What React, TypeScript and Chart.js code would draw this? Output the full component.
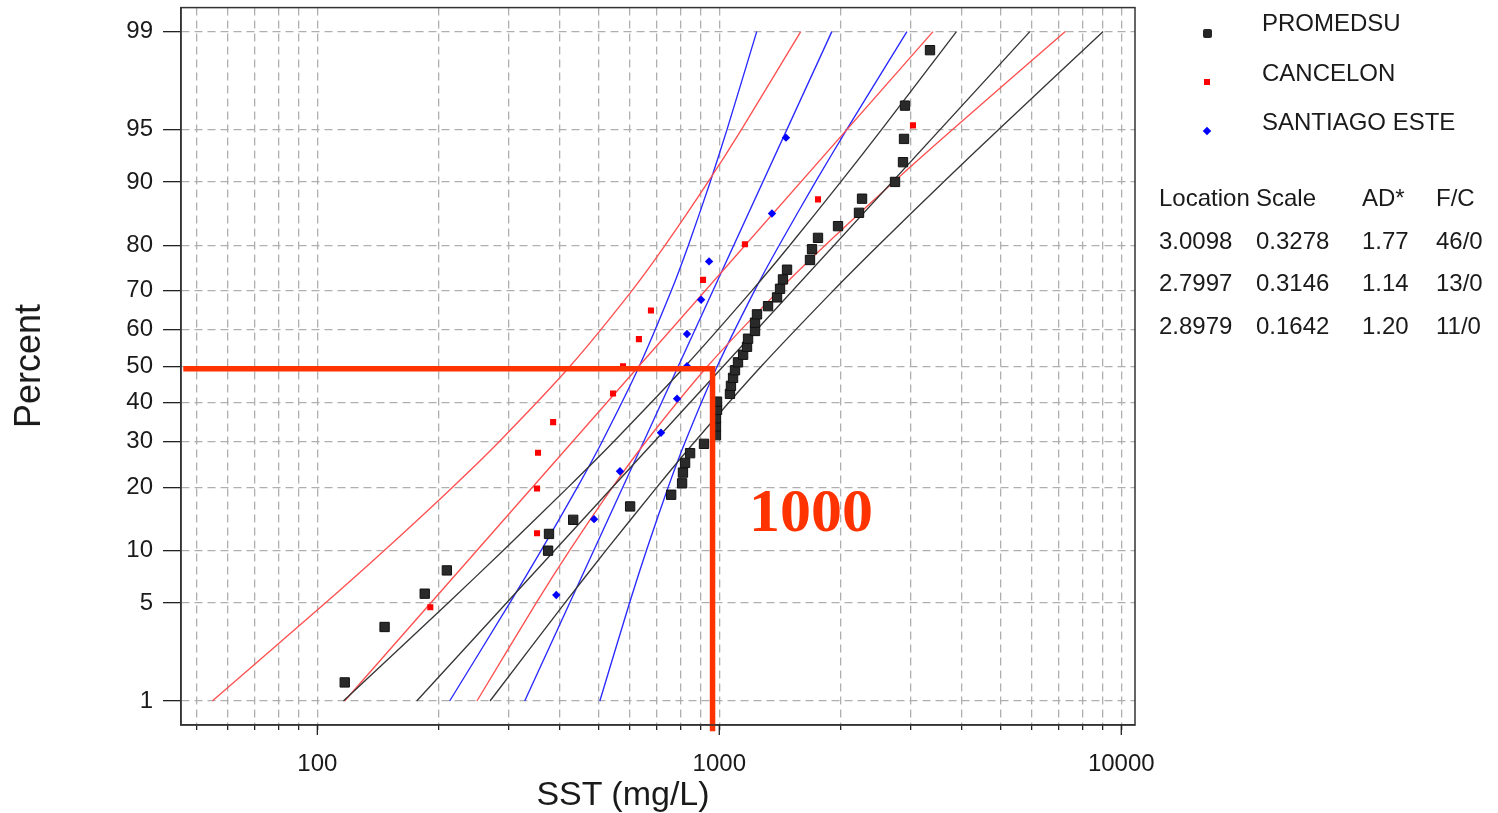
import React, { useEffect, useRef } from "react";
import { Chart, registerables } from "chart.js";

Chart.register(...registerables);

// ---------- axis definitions ----------
const Y_TICK_PERCENTS = [1, 5, 10, 20, 30, 40, 50, 60, 70, 80, 90, 95, 99];
const X_TICK_VALUES = [
  50, 60, 70, 80, 90, 100, 200, 300, 400, 500, 600, 700, 800, 900, 1000, 2000,
  3000, 4000, 5000, 6000, 7000, 8000, 9000, 10000,
];
const X_MAJOR = [100, 1000, 10000];
const X_MIN = 45.8;
const X_MAX = 10817;
const Y_PCT_MIN = 0.633;
const Y_PCT_MAX = 99.367;

// ---------- observations ----------
const PROMEDSU_X = [
  117, 147, 185, 210, 375, 377, 433, 600, 759, 808, 812, 822, 846, 916, 981, 981,
  981, 987, 987, 1063, 1069, 1082, 1094, 1113, 1146, 1172, 1179, 1227, 1227, 1241,
  1322, 1392, 1416, 1440, 1474, 1681, 1701, 1760, 1974, 2226, 2265, 2736, 2864,
  2881, 2897, 3343,
];
const PROMEDSU_PCT = [
  1.4, 3.5, 5.7, 7.8, 10.0, 12.2, 14.3, 16.5, 18.6, 20.8, 23.0, 25.1, 27.3, 29.5,
  31.6, 33.8, 35.9, 38.1, 40.3, 42.4, 44.6, 46.8, 48.9, 51.1, 53.2, 55.4, 57.6,
  59.7, 61.9, 64.1, 66.2, 68.4, 70.5, 72.7, 74.9, 77.0, 79.2, 81.4, 83.5, 85.7,
  87.8, 90.0, 92.2, 94.3, 96.5, 98.6,
];
const CANCELON_X = [191, 352, 352, 354, 386, 544, 576, 631, 676, 911, 1158, 1760, 3032];
const CANCELON_PCT = [4.7, 12.3, 19.8, 27.4, 34.9, 42.5, 50.0, 57.5, 65.1, 72.6, 80.2, 87.7, 95.3];
const SANTIAGO_X = [393, 488, 566, 716, 785, 831, 831, 901, 943, 1352, 1465];
const SANTIAGO_PCT = [5.6, 14.4, 23.3, 32.2, 41.1, 50.0, 58.9, 67.8, 76.7, 85.6, 94.4];

// ---------- fitted lines and confidence bands ----------
const FIT_PCT = [1, 99];
const BAND_PCT = [1, 5, 10, 20, 30, 50, 70, 80, 90, 95, 99];

const PROMEDSU_FIT_X = [176.7, 5922];
const PROMEDSU_LOW_X = [116.1, 211.5, 289.6, 420.4, 545.7, 822.3, 1204, 1498, 2005, 2533, 3890];
const PROMEDSU_UP_X = [268.9, 413.0, 521.9, 698.7, 868.7, 1272, 1918, 2489, 3612, 4947, 9013];

const CANCELON_FIT_X = [116.9, 3401];
const CANCELON_LOW_X = [54.8, 104.7, 146.5, 216.7, 283.3, 425.3, 605.8, 733.5, 937.7, 1135, 1594];
const CANCELON_UP_X = [249.5, 350.4, 423.9, 542.0, 656.4, 934.8, 1403, 1834, 2714, 3798, 7256];

const SANTIAGO_FIT_X = [328.0, 1905];
const SANTIAGO_LOW_X = [213.4, 301.2, 360.2, 443.4, 510.9, 632.2, 759.4, 837.8, 949.2, 1045, 1239];
const SANTIAGO_UP_X = [504.4, 597.9, 658.3, 745.8, 822.7, 988.4, 1223, 1409, 1735, 2074, 2929];

// ---------- reference (highlight) line ----------
const REF_X = [46.4, 962, 962];
const REF_PCT = [49.3, 49.3, 0.56];

// ---------- legend / table ----------
const SERIES_NAMES = ["PROMEDSU", "CANCELON", "SANTIAGO ESTE"];
const TABLE_HEADER = ["Location", "Scale", "AD*", "F/C"];
const TABLE_ROWS = [
  ["3.0098", "0.3278", "1.77", "46/0"],
  ["2.7997", "0.3146", "1.14", "13/0"],
  ["2.8979", "0.1642", "1.20", "11/0"],
];

// inverse standard normal CDF (probability-scale transform)
function normInv(p: number): number {
  const a = [-39.69683028665376, 220.9460984245205, -275.9285104469687, 138.357751867269, -30.66479806614716, 2.506628277459239];
  const b = [-54.47609879822406, 161.5858368580409, -155.6989798598866, 66.80131188771972, -13.28068155288572];
  const c = [-0.007784894002430293, -0.3223964580411365, -2.400758277161838, -2.549732539343734, 4.374664141464968, 2.938163982698783];
  const d = [0.007784695709041462, 0.3224671290700398, 2.445134137142996, 3.754408661907416];
  const pl = 0.02425;
  if (p < pl) {
    const q = Math.sqrt(-2 * Math.log(p));
    return (((((c[0] * q + c[1]) * q + c[2]) * q + c[3]) * q + c[4]) * q + c[5]) /
      ((((d[0] * q + d[1]) * q + d[2]) * q + d[3]) * q + 1);
  }
  if (p <= 1 - pl) {
    const q = p - 0.5;
    const r = q * q;
    return ((((((a[0] * r + a[1]) * r + a[2]) * r + a[3]) * r + a[4]) * r + a[5]) * q) /
      (((((b[0] * r + b[1]) * r + b[2]) * r + b[3]) * r + b[4]) * r + 1);
  }
  const q = Math.sqrt(-2 * Math.log(1 - p));
  return -(((((c[0] * q + c[1]) * q + c[2]) * q + c[3]) * q + c[4]) * q + c[5]) /
    ((((d[0] * q + d[1]) * q + d[2]) * q + d[3]) * q + 1);
}
const zOf = (pct: number) => normInv(pct / 100);
const pts = (xs: number[], pcts: number[]) => xs.map((x, i) => ({ x, y: zOf(pcts[i]) }));

const BLACK_LINE = "rgb(55,55,55)";
const RED_LINE = "rgb(255,80,80)";
const BLUE_LINE = "rgb(40,40,255)";
const REF_COLOR = "rgb(255,51,0)";
const GRID_COLOR = "rgb(175,175,175)";
const FONT = "'Liberation Sans', Arial, sans-serif";

const lineDs = (xs: number[], pcts: number[], color: string) => ({
  data: pts(xs, pcts),
  showLine: true,
  borderColor: color,
  borderWidth: 1.35,
  pointRadius: 0,
  fill: false,
  tension: 0.25,
});

const framePlugin = {
  id: "frameAndMajorTicks",
  afterDraw(chart: any) {
    const { ctx, chartArea: a, scales } = chart;
    ctx.save();
    ctx.strokeStyle = "#333";
    ctx.lineWidth = 1.5;
    ctx.strokeRect(a.left, a.top, a.right - a.left, a.bottom - a.top);
    ctx.beginPath();
    for (const v of X_MAJOR) {
      const px = scales.x.getPixelForValue(v);
      ctx.moveTo(px, a.bottom);
      ctx.lineTo(px, a.bottom + 10);
    }
    ctx.strokeStyle = "#222";
    ctx.lineWidth = 1.3;
    ctx.stroke();
    ctx.restore();
  },
};

function ProbabilityChart() {
  const ref = useRef<HTMLCanvasElement | null>(null);
  useEffect(() => {
    if (!ref.current) return;
    const chart = new Chart(ref.current, {
      type: "scatter",
      data: {
        datasets: [
          {
            data: pts(REF_X, REF_PCT),
            showLine: true,
            borderColor: REF_COLOR,
            borderWidth: 5.5,
            pointRadius: 0,
            fill: false,
            clip: false,
            borderJoinStyle: "miter",
          } as any,
          {
            data: pts(PROMEDSU_X, PROMEDSU_PCT),
            pointStyle: "rect",
            pointRadius: 6.6,
            backgroundColor: "#2a2a2a",
            borderColor: "#111",
            borderWidth: 1,
          },
          {
            data: pts(CANCELON_X, CANCELON_PCT),
            pointStyle: "rect",
            pointRadius: 4.3,
            backgroundColor: "rgb(255,0,0)",
            borderColor: "rgb(255,0,0)",
            borderWidth: 0,
          },
          {
            data: pts(SANTIAGO_X, SANTIAGO_PCT),
            pointStyle: "rectRot",
            pointRadius: 4.2,
            backgroundColor: "rgb(0,0,255)",
            borderColor: "rgb(0,0,255)",
            borderWidth: 0,
          },
          lineDs(PROMEDSU_FIT_X, FIT_PCT, BLACK_LINE),
          lineDs(PROMEDSU_LOW_X, BAND_PCT, BLACK_LINE),
          lineDs(PROMEDSU_UP_X, BAND_PCT, BLACK_LINE),
          lineDs(CANCELON_FIT_X, FIT_PCT, RED_LINE),
          lineDs(CANCELON_LOW_X, BAND_PCT, RED_LINE),
          lineDs(CANCELON_UP_X, BAND_PCT, RED_LINE),
          lineDs(SANTIAGO_FIT_X, FIT_PCT, BLUE_LINE),
          lineDs(SANTIAGO_LOW_X, BAND_PCT, BLUE_LINE),
          lineDs(SANTIAGO_UP_X, BAND_PCT, BLUE_LINE),
        ] as any,
      },
      options: {
        responsive: false,
        animation: false,
        events: [],
        layout: { padding: { top: 7, right: 363, bottom: 0, left: 0 } },
        plugins: { legend: { display: false }, tooltip: { enabled: false } },
        scales: {
          x: {
            type: "logarithmic",
            min: X_MIN,
            max: X_MAX,
            afterBuildTicks: (scale: any) => {
              scale.ticks = X_TICK_VALUES.map((v) => ({ value: v, major: X_MAJOR.includes(v) }));
            },
            afterFit: (scale: any) => {
              scale.height = 88;
              scale.paddingLeft = 0;
              scale.paddingRight = 0;
            },
            ticks: {
              autoSkip: false,
              maxRotation: 0,
              minRotation: 0,
              padding: 20,
              color: "#1a1a1a",
              font: { family: FONT, size: 24 },
              callback: (v: any) => (X_MAJOR.includes(Number(v)) ? String(v) : ""),
            },
            grid: {
              color: GRID_COLOR,
              lineWidth: 1.3,
              drawTicks: true,
              tickLength: 5,
              tickColor: "#222",
              tickWidth: 1.3,
              tickBorderDash: [],
            },
            border: { display: true, color: "#333", width: 1.5, dash: [8, 5] },
          },
          y: {
            type: "linear",
            min: zOf(Y_PCT_MIN),
            max: zOf(Y_PCT_MAX),
            afterBuildTicks: (scale: any) => {
              scale.ticks = Y_TICK_PERCENTS.map((p) => ({ value: zOf(p) }));
            },
            afterFit: (scale: any) => {
              scale.width = 181;
              scale.paddingTop = 0;
              scale.paddingBottom = 0;
            },
            ticks: {
              autoSkip: false,
              padding: 10,
              color: "#1a1a1a",
              font: { family: FONT, size: 24 },
              callback: (_v: any, i: number) => String(Y_TICK_PERCENTS[i]),
            },
            grid: {
              color: GRID_COLOR,
              lineWidth: 1.3,
              drawTicks: true,
              tickLength: 18,
              tickColor: "#222",
              tickWidth: 1.3,
              tickBorderDash: [],
            },
            border: { display: true, color: "#333", width: 1.5, dash: [8, 5] },
          },
        },
      } as any,
      plugins: [framePlugin],
    });
    return () => chart.destroy();
  }, []);
  return <canvas ref={ref} width={1498} height={813} style={{ position: "absolute", left: 0, top: 0 }} />;
}

const textBase: React.CSSProperties = {
  position: "absolute",
  fontFamily: FONT,
  color: "#1a1a1a",
  whiteSpace: "nowrap",
  lineHeight: "24px",
  fontSize: 24,
};

export default function App() {
  const legendTops = [11, 60.5, 110];
  const markerCenters = [33, 82, 131];
  const tableTops = [186, 229, 271, 314];
  const colLeft = [1159, 1256, 1362, 1436];
  return (
    <div style={{ position: "absolute", left: 0, top: 0, width: 1498, height: 813, background: "#fff", overflow: "hidden" }}>
      <ProbabilityChart />
      {/* axis titles */}
      <div
        style={{
          ...textBase,
          fontSize: 36,
          lineHeight: "36px",
          left: 28,
          top: 366,
          transform: "translate(-50%, -50%) rotate(-90deg)",
        }}
      >
        Percent
      </div>
      <div style={{ ...textBase, fontSize: 34, lineHeight: "34px", left: 623, top: 793, transform: "translate(-50%, -50%)" }}>
        SST (mg/L)
      </div>
      {/* annotation */}
      <div
        style={{
          position: "absolute",
          left: 749,
          top: 479,
          fontFamily: "'Liberation Serif', 'Times New Roman', serif",
          fontWeight: "bold",
          fontSize: 62,
          lineHeight: "62px",
          color: REF_COLOR,
        }}
      >
        1000
      </div>
      {/* legend */}
      <div style={{ position: "absolute", left: 1202.5, top: markerCenters[0] - 4.5, width: 9, height: 9, borderRadius: 2, background: "#262626" }} />
      <div style={{ position: "absolute", left: 1204, top: markerCenters[1] - 3, width: 6, height: 6, background: "rgb(255,0,0)" }} />
      <div
        style={{
          position: "absolute",
          left: 1204,
          top: markerCenters[2] - 3,
          width: 6,
          height: 6,
          background: "rgb(0,0,255)",
          transform: "rotate(45deg)",
        }}
      />
      {SERIES_NAMES.map((n, i) => (
        <div key={n} style={{ ...textBase, left: 1262, top: legendTops[i] }}>
          {n}
        </div>
      ))}
      {/* statistics table */}
      {TABLE_HEADER.map((h, j) => (
        <div key={h} style={{ ...textBase, left: colLeft[j], top: tableTops[0] }}>
          {h}
        </div>
      ))}
      {TABLE_ROWS.map((row, i) =>
        row.map((cell, j) => (
          <div key={i + "-" + j} style={{ ...textBase, left: colLeft[j], top: tableTops[i + 1] }}>
            {cell}
          </div>
        ))
      )}
    </div>
  );
}
